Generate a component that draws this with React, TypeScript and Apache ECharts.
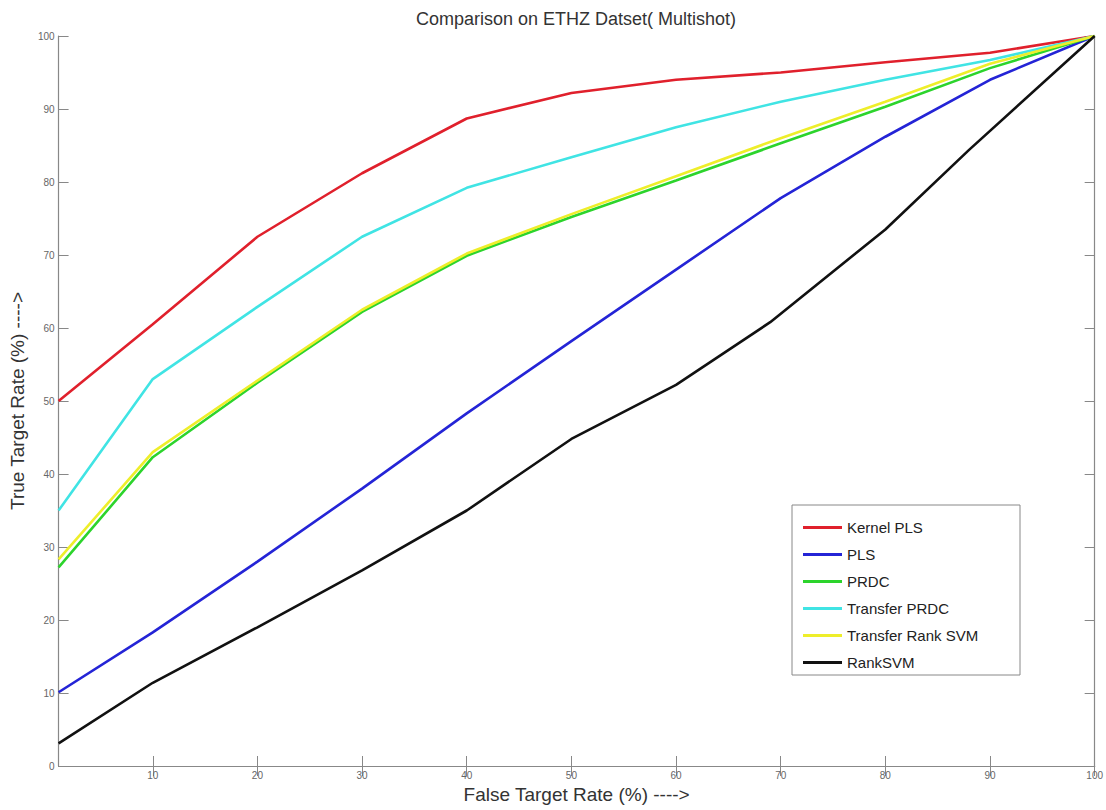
import React, { useEffect, useRef } from "react";
import * as echarts from "echarts";

const seriesNames = ["Kernel PLS", "PLS", "PRDC", "Transfer PRDC", "Transfer Rank SVM", "RankSVM"];
const seriesColors = ["#e0202c", "#2424d6", "#2cd42c", "#40e4e4", "#eeee2a", "#111111"];

const xDecades = [1, 10, 20, 30, 40, 50, 60, 70, 80, 90, 100];
const kernelPLS = [50, 60.5, 72.5, 81.2, 88.7, 92.2, 94, 95, 96.4, 97.7, 100];
const pls = [10.1, 18.3, 28, 38, 48.3, 58.2, 68, 77.8, 86.2, 94, 100];
const prdc = [27.2, 42.3, 52.5, 62.2, 69.9, 75.2, 80.2, 85.3, 90.3, 95.6, 100];
const transferPRDC = [35, 53, 62.9, 72.5, 79.2, 83.4, 87.5, 91, 94, 96.7, 100];
const transferRankSVM = [28.3, 43, 52.8, 62.5, 70.2, 75.6, 80.8, 86, 91, 96.2, 100];
const rankSvmX = [1, 10, 20, 30, 40, 50, 60, 69, 80, 88, 100];
const rankSvm = [3.1, 11.4, 19, 26.8, 35, 44.8, 52.2, 60.8, 73.5, 84.4, 100];

const xTickValues = [10, 20, 30, 40, 50, 60, 70, 80, 90, 100];

const pair = (xs: number[], ys: number[]) => xs.map((x, i) => [x, ys[i]]);

export default function App() {
  const ref = useRef<HTMLDivElement>(null);
  useEffect(() => {
    if (!ref.current) return;
    const chart = echarts.init(ref.current, null, { renderer: "svg" });
    const font = "Liberation Sans, Arial, sans-serif";
    const dataSets = [
      pair(xDecades, kernelPLS),
      pair(xDecades, pls),
      pair(xDecades, prdc),
      pair(xDecades, transferPRDC),
      pair(xDecades, transferRankSVM),
      pair(rankSvmX, rankSvm),
    ];
    const axisLine = { show: true, lineStyle: { color: "#888", width: 1.2 } };
    chart.setOption({
      animation: false,
      backgroundColor: "#fff",
      title: {
        text: "Comparison on ETHZ Datset( Multishot)",
        left: 571,
        textAlign: "center",
        top: 5,
        textStyle: { fontFamily: font, fontSize: 18, fontWeight: "normal", color: "#333" },
      },
      grid: { left: 56, right: 11, top: 36, bottom: 44, containLabel: false },
      xAxis: [
        {
          type: "value",
          min: 1,
          max: 100,
          position: "bottom",
          axisLine,
          axisTick: { show: true, inside: true, length: 10, customValues: xTickValues, lineStyle: { color: "#888" } },
          axisLabel: { show: true, customValues: xTickValues, fontSize: 10, color: "#666", fontFamily: font, margin: 4 },
          splitLine: { show: false },
          name: "False Target Rate (%) ---->",
          nameLocation: "middle",
          nameGap: 19,
          nameTextStyle: { fontFamily: font, fontSize: 19, color: "#333" },
        },
        {
          type: "value",
          min: 1,
          max: 100,
          position: "top",
          axisLine,
          axisTick: { show: true, inside: true, length: 10, customValues: xTickValues, lineStyle: { color: "#888" } },
          axisLabel: { show: false },
          splitLine: { show: false },
        },
      ],
      yAxis: [
        {
          type: "value",
          min: 0,
          max: 100,
          interval: 10,
          position: "left",
          axisLine,
          axisTick: { show: true, inside: true, length: 10, lineStyle: { color: "#888" } },
          axisLabel: { fontSize: 10, color: "#666", fontFamily: font, margin: 4 },
          splitLine: { show: false },
          name: "True Target Rate (%) ---->",
          nameLocation: "middle",
          nameGap: 25,
          nameTextStyle: { fontFamily: font, fontSize: 19, color: "#333" },
        },
        {
          type: "value",
          min: 0,
          max: 100,
          interval: 10,
          position: "right",
          axisLine,
          axisTick: { show: true, inside: true, length: 10, lineStyle: { color: "#888" } },
          axisLabel: { show: false },
          splitLine: { show: false },
        },
      ],
      legend: {
        orient: "vertical",
        left: 798,
        top: 515,
        itemGap: 12,
        itemWidth: 39,
        itemHeight: 3,
        icon: "rect",
        z: 10,
        data: seriesNames,
        textStyle: { fontFamily: font, fontSize: 15, lineHeight: 15, color: "#222" },
      },
      graphic: [
        {
          type: "rect",
          z: 5,
          shape: { x: 792, y: 505, width: 228, height: 170 },
          style: { fill: "#fff", stroke: "#888", lineWidth: 1 },
        },
      ],
      series: seriesNames.map((name, i) => ({
        name,
        type: "line",
        data: dataSets[i],
        symbol: "none",
        color: seriesColors[i],
        itemStyle: { color: seriesColors[i] },
        lineStyle: { width: 2.6, color: seriesColors[i] },
        xAxisIndex: 0,
        yAxisIndex: 0,
      })),
    });
    return () => chart.dispose();
  }, []);
  return <div ref={ref} style={{ position: "absolute", left: 0, top: 0, width: 1106, height: 810 }} />;
}
